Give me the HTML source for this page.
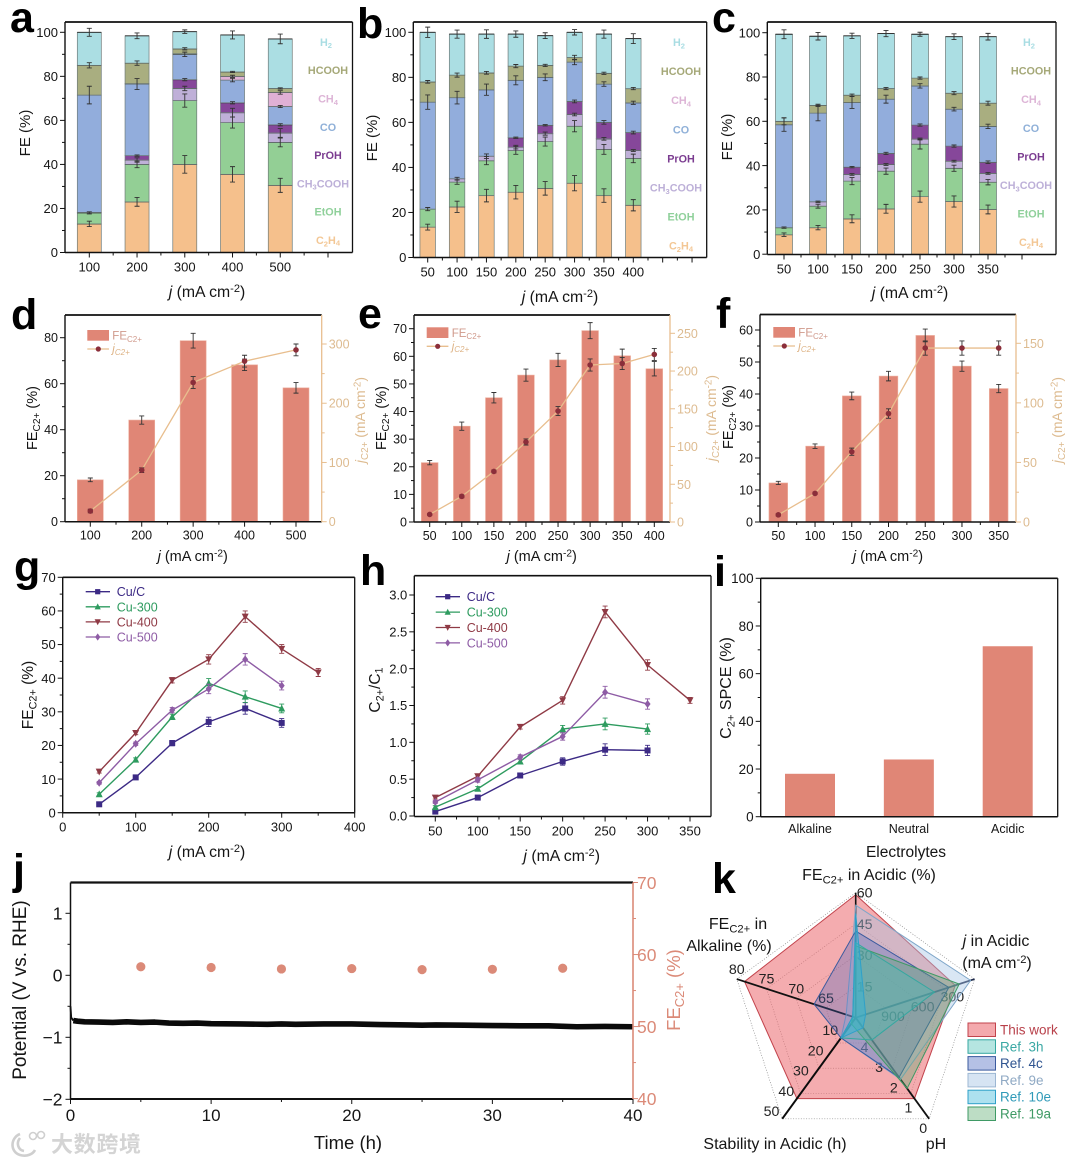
<!DOCTYPE html>
<html lang="en">
<head>
<meta charset="utf-8">
<title>Electrocatalysis performance figure</title>
<style>
html,body{margin:0;padding:0;background:#fff;width:1075px;height:1163px;overflow:hidden}
svg{display:block;font-family:"Liberation Sans","Noto Sans CJK SC",sans-serif;filter:blur(.35px)}
</style>
</head>
<body>
<svg id="figure" xmlns="http://www.w3.org/2000/svg" width="1075" height="1163" viewBox="0 0 1075 1163">
  <rect width="1075" height="1163" fill="#fff"/>
  <g id="panel-a"></g>
  <g id="panel-b"></g>
  <g id="panel-c"></g>
  <g id="panel-d"></g>
  <g id="panel-e"></g>
  <g id="panel-f"></g>
  <g id="panel-g"></g>
  <g id="panel-h"></g>
  <g id="panel-i"></g>
  <g id="panel-j"></g>
  <g id="panel-k"></g>
  <g id="watermark">
    <path d="M20 1134 C10 1138 10 1152 20 1155 C27 1157 33 1154 35 1150 M20 1138 C16 1143 18 1150 24 1151" fill="none" stroke="#cfcfcf" stroke-width="2.6"/>
    <circle cx="33" cy="1136" r="3.5" fill="none" stroke="#cfcfcf" stroke-width="1.6"/>
    <circle cx="41" cy="1135" r="3.5" fill="none" stroke="#cfcfcf" stroke-width="1.6"/>
    <text x="51" y="1152" font-size="22" font-weight="bold" fill="#d4d4d4" textLength="90">大数跨境</text>
  </g>
</svg>
<script>
/* ---------- panel a data (cumulative stack tops, %) ---------- */
const aCats=[100,200,300,400,500];
const aXTicks=[100,200,300,400,500,600];
const aC2H4=[13,23,40,35.5,30.5];
const aEtOH=[18,40,69,59,50];
const aCH3COOH=[18.2,42,74.5,63.5,54.3];
const aPrOH=[18.2,44,78.5,68,58];
const aCO=[71.5,76.5,90,78.3,66.3];
const aCH4=[71.5,76.7,90.3,80,72.7];
const aHCOOH=[85,86,92.5,82,74.5];
const aH2=[100,98.4,100.3,98.8,97];
const aErrC2H4=[1.2,2,4,3.5,3.2];
const aErrEtOH=[.5,1.5,3,2.5,2];
const aErrCH3COOH=[0,1,1,2,2];
const aErrPrOH=[0,.3,.5,.5,.5];
const aErrCO=[4,2.5,1,.8,.5];
const aErrCH4=[0,0,0,.5,.8];
const aErrHCOOH=[1.2,1,.5,.3,.3];
const aErrH2=[1.8,1.3,.8,1.8,2.2];
/* ---------- panel b data ---------- */
const bCats=[50,100,150,200,250,300,350,400];
const bXTicks=[50,100,150,200,250,300,350,400,450,500];
const bC2H4=[13.5,22.5,27.5,29,30.7,33,27.5,23.2];
const bEtOH=[21.5,33.5,43,47.5,51.5,58.3,48,44];
const bCH3COOH=[21.5,35,45,49,55,63.5,52.7,47.5];
const bPrOH=[21.5,35,45,53.2,58.7,69.3,60,55.5];
const bCO=[69,71,74.5,78.7,80,86.8,77,68.7];
const bCH4=[69,71,74.5,78.7,80,86.8,77,68.7];
const bHCOOH=[78,81,82,85,85.3,88.8,81.8,75];
const bH2=[100,99.2,99.2,99.2,98.5,100,99.2,97.2];
const bErrC2H4=[1.3,2.5,2.8,3,3,3.4,3,2.5];
const bErrEtOH=[.7,1,1.8,1.7,2,2.5,2.2,1.9];
const bErrCH3COOH=[0,.6,1,.8,.7,.6,.6,.4];
const bErrPrOH=[0,0,0,.3,.3,.6,.8,.6];
const bErrCO=[3.2,2.8,2.5,2,1.5,1.2,1,.7];
const bErrCH4=[0,0,0,0,0,0,0,0];
const bErrHCOOH=[.6,.9,.6,.7,.5,1,.5,.5];
const bErrH2=[2.3,1.8,1.9,1.4,1.3,1.2,1.8,2.2];
/* ---------- panel c data ---------- */
const cCats=[50,100,150,200,250,300,350];
const cXTicks=[50,100,150,200,250,300,350,400];
const cC2H4=[8.8,12,16,20.5,26,23.8,20.2];
const cEtOH=[12,21.7,33,37.5,49.7,38.8,32.5];
const cCH3COOH=[12,23.7,36,40.5,52,42,36.5];
const cPrOH=[12,23.7,39.3,45.5,58.3,48.8,41.5];
const cCO=[58.5,63.7,68.5,70,76,65.5,57.7];
const cCH4=[58.5,63.7,68.5,70,76,65.5,57.7];
const cHCOOH=[60,67.2,71.8,74.8,79.5,72.7,68.2];
const cH2=[99.3,98.4,98.6,99.6,99.3,98.2,98.2];
const cErrC2H4=[.8,1,1.8,2,2.5,2.5,2];
const cErrEtOH=[.3,.9,1.6,1.4,2.2,1.4,1.2];
const cErrCH3COOH=[0,.3,.4,.4,.4,.4,.4];
const cErrPrOH=[0,0,.3,.5,.5,.5,.6];
const cErrCO=[3,3.5,2.7,1.8,1,.8,1];
const cErrCH4=[0,0,0,0,0,0,0];
const cErrHCOOH=[1.6,.5,.5,.5,.5,.7,.9];
const cErrH2=[2,1.7,1.2,1.4,.9,1.3,1.5];
const stackYTicks=[0,20,40,60,80,100];
/* ---------- panels d, e, f data ---------- */
const dCats=[100,200,300,400,500];
const dFE=[18.2,44.2,78.7,68.2,58.2];
const dFEErr=[.8,1.8,3.2,2.5,2.3];
const dJ=[18,87,235,271,290];
const dJErr=[3,4,10,10,10];
const dYTicks=[0,20,40,60,80];
const dRightTicks=[0,100,200,300];
const eCats=[50,100,150,200,250,300,350,400];
const eFE=[21.5,34.7,45,53.2,58.7,69.3,60.2,55.5];
const eFEErr=[.8,1.5,1.9,2.2,2.4,2.9,2.4,2.6];
const eJ=[10,34,67,106,147,208,210,222];
const eJErr=[1,2,2,4,6,8,8,8];
const eYTicks=[0,10,20,30,40,50,60,70];
const eRightTicks=[0,50,100,150,200,250];
const fCats=[50,100,150,200,250,300,350];
const fFE=[12.2,23.7,39.4,45.6,58.3,48.7,41.7];
const fFEErr=[.5,.7,1.2,1.5,2,1.6,1.3];
const fJ=[6,24,59,91,146,146,146];
const fJErr=[1,1,3,4,6,6,6];
const fYTicks=[0,10,20,30,40,50,60];
const fRightTicks=[0,50,100,150];
/* ---------- panel g data ---------- */
const lineCats=[50,100,150,200,250,300,350];
const gCuC=[2.5,10.5,20.7,27,31,26.7];
const gCu300=[5.5,15.8,28.5,38.5,34.5,31];
const gCu400=[12.2,23.7,39.4,45.6,58.3,48.7,41.7];
const gCu500=[8.9,20.5,30.5,36.8,45.6,37.8];
const gErr=[.4,.5,.8,1.4,1.7,1.3,1.2];
const gXTicks=[0,100,200,300,400];
const gYTicks=[0,10,20,30,40,50,60,70];
/* ---------- panel h data ---------- */
const hCuC=[.06,.25,.55,.74,.9,.89];
const hCu300=[.12,.37,.74,1.18,1.25,1.18];
const hCu400=[.25,.54,1.21,1.57,2.77,2.05,1.57];
const hCu500=[.19,.49,.8,1.08,1.68,1.52];
const hErr=[.02,.03,.03,.05,.08,.07,.04];
const hXTicks=[50,100,150,200,250,300,350];
const hYTicks=[0,.5,1,1.5,2,2.5,3];
/* ---------- panel i data ---------- */
const iCats=['Alkaline','Neutral','Acidic'];
const iSPCE=[18,24,71.5];
const iYTicks=[0,20,40,60,80,100];
/* ---------- panel j data ---------- */
const potentialTimes=[0,.05,.2,.5,1,2,3,4,5,6,7,8,9,10,12,14,15,16,18,20,22,24,25,26,28,30,32,34,36,38,40];
const potentialValues=[-.5,-.68,-.73,-.74,-.75,-.755,-.76,-.75,-.76,-.755,-.77,-.775,-.77,-.78,-.785,-.79,-.785,-.79,-.785,-.785,-.795,-.8,-.805,-.8,-.805,-.81,-.815,-.815,-.83,-.825,-.83];
const feTimes=[5,10,15,20,25,30,35];
const feValues=[58.3,58.2,58,58.05,57.9,57.95,58.1];
const jXTicks=[0,10,20,30,40];
const jYTicks=[-2,-1,0,1];
const jRightTicks=[40,50,60,70];
/* ---------- panel k data: FE acidic, j acidic, pH, stability, FE alkaline ---------- */
const thisWork=[59,195,1,40,78.7];
const ref3h=[36,405,3.9,10,60.5];
const ref4c=[41.6,260,2.05,10,67];
const ref9e=[54,40,1.95,10,61.6];
const ref10e=[50,1100,4.5,10,60.5];
const ref19a=[34.5,155,1.5,3,60.5];
const kFETicks=[60,45,30,15];
const kJTicks=[300,600,900];
const kPHTicks=[0,1,2,3,4];
const kStabilityTicks=[50,40,30,20,10];
const kAlkalineTicks=[80,75,70,65];

/* ---------- helpers ---------- */
const NS='http://www.w3.org/2000/svg';
const XT='<tspan font-style="italic">j</tspan> (mA cm<tspan dy="-.45em" font-size=".7em">-2</tspan><tspan dy=".315em">)</tspan>';
const FEC='FE<tspan dy=".3em" font-size=".7em">C2+</tspan><tspan dy="-.21em"> (%)</tspan>';
const JC='<tspan font-style="italic">j</tspan><tspan dy=".3em" font-size=".7em">C2+</tspan><tspan dy="-.21em"> (mA cm</tspan><tspan dy="-.45em" font-size=".7em">-2</tspan><tspan dy=".315em">)</tspan>';
const BAR='#E08676',TAN='#E8BE8E',TANTXT='#DDBB90',DOT='#8B2E3A';
const stackColors=['#F5C08C','#93CF95','#BFB0D8','#86479A','#92ADDC','#E0B0D5','#A9AE80','#ABDEE3'];
const speciesLabels=['H<tspan dy=".3em" font-size=".7em">2</tspan>','HCOOH','CH<tspan dy=".3em" font-size=".7em">4</tspan>','CO','PrOH','CH<tspan dy=".3em" font-size=".7em">3</tspan><tspan dy="-.21em">COOH</tspan>','EtOH','C<tspan dy=".3em" font-size=".7em">2</tspan><tspan dy="-.21em">H</tspan><tspan dy=".21em" font-size=".7em">4</tspan>'];
const speciesText=['#A9DDE3','#A5A878','#DDB4D6','#8FB0D8','#7B3C90','#BDB0D8','#8FD09A','#F3C795'];
const speciesShift=[-2,0,0,0,0,-5,0,0];

function linear(d0,d1,r0,r1){return v=>r0+(v-d0)*(r1-r0)/(d1-d0);}
function mk(tag,attrs,parent){const el=document.createElementNS(NS,tag);for(const k in attrs)el.setAttribute(k,attrs[k]);parent.appendChild(el);return el;}
function label(parent,name,x,y,html,o){
  o=o||{};
  const el=mk('text',{x:x,y:y,'font-size':o.size||13,fill:o.fill||'#151515','text-anchor':o.anchor||'middle'},parent);
  if(o.rot!=null)el.setAttribute('transform','rotate('+o.rot+' '+x+' '+y+')');
  if(o.weight)el.setAttribute('font-weight',o.weight);
  el.innerHTML=html;
  
  
  return el;
}
function axisLine(parent,x1,y1,x2,y2,color,w){
  const el=mk('line',{x1:x1,y1:y1,x2:x2,y2:y2,stroke:color,'stroke-width':w},parent);
  
  
  return el;
}
function frame(parent,l,r,t,b,rightColor,topW){
  axisLine(parent,l,t,r,t,'#111',topW||1.7);
  axisLine(parent,l,b,r,b,'#111',1.5);
  axisLine(parent,l,t,l,b,'#111',1.4);
  axisLine(parent,r,t,r,b,rightColor||'#111',1.3);
}
function yTick(parent,x,y,len,color){
  const el=mk('line',{x1:x,y1:y,x2:x+len,y2:y,stroke:color,'stroke-width':1},parent);
  
  
}
function xTick(parent,x,y,len,color){
  const el=mk('line',{x1:x,y1:y,x2:x,y2:y+len,stroke:color,'stroke-width':1},parent);
  
  
}
function yAxis(parent,scale,ticks,x,dir,o){
  o=o||{};const color=o.color||'#111',tc=o.text||'#151515',size=o.size||13,fmt=o.fmt||(v=>String(v));
  ticks.forEach((v,i)=>{
    yTick(parent,x,scale(v),dir*(o.major||5),color);
    label(parent,'y-tick-label',x+dir*(o.gap||7),scale(v)+size*.36,fmt(v),{size:size,fill:tc,anchor:dir<0?'end':'start'});
    if(i<ticks.length-1)yTick(parent,x,scale((v+ticks[i+1])/2),dir*3,color);
  });
}
function xAxis(parent,scale,ticks,shown,y,o){
  o=o||{};const size=o.size||13,dy=o.dy||(size+6);
  ticks.forEach((v,i)=>{
    xTick(parent,scale(v),y,o.major||5,o.color||'#111');
    if(shown.indexOf(v)>=0)label(parent,'x-tick-label',scale(v),y+dy,String(v),{size:size});
    if(i<ticks.length-1)xTick(parent,scale((v+ticks[i+1])/2),y,3,o.color||'#111');
  });
}
function errorBar(parent,x,yTop,yBot,color,cap){
  const d='M'+x+' '+yTop+'V'+yBot+'M'+(x-cap)+' '+yTop+'H'+(x+cap)+'M'+(x-cap)+' '+yBot+'H'+(x+cap);
  const el=mk('path',{d:d,stroke:color,'stroke-width':.9,fill:'none'},parent);
  
  
}
function marker(parent,type,x,y,color,s){
  let el;
  if(type==='square')el=mk('rect',{x:x-s,y:y-s,width:2*s,height:2*s,fill:color},parent);
  else if(type==='up')el=mk('path',{d:'M'+x+' '+(y-s-.8)+'L'+(x+s+.5)+' '+(y+s)+'L'+(x-s-.5)+' '+(y+s)+'Z',fill:color},parent);
  else if(type==='down')el=mk('path',{d:'M'+x+' '+(y+s+.8)+'L'+(x+s+.5)+' '+(y-s)+'L'+(x-s-.5)+' '+(y-s)+'Z',fill:color},parent);
  else if(type==='diamond')el=mk('path',{d:'M'+x+' '+(y-s-1)+'L'+(x+s)+' '+y+'L'+x+' '+(y+s+1)+'L'+(x-s)+' '+y+'Z',fill:color},parent);
  else el=mk('circle',{cx:x,cy:y,r:s,fill:color},parent);
  
  
}
function seriesLine(parent,pts,color,w){
  const el=mk('polyline',{points:pts.map(p=>p[0]+','+p[1]).join(' '),fill:'none',stroke:color,'stroke-width':w,'stroke-linejoin':'round'},parent);
  
  
  return el;
}
function drawStack(id,o){
  const g=document.getElementById(id),x=o.x,y=o.y;
  o.cats.forEach((cat,i)=>{
    let prev=0;
    o.tops.forEach((s,k)=>{
      const top=s[i];
      if(top<=prev)return;
      const el=mk('rect',{x:x(cat)-o.w/2,y:y(top),width:o.w,height:y(prev)-y(top),fill:stackColors[k],stroke:'#6d7a78','stroke-width':.7},g);
      
      
      const edge=mk('line',{x1:x(cat)-o.w/2,x2:x(cat)+o.w/2,y1:y(top),y2:y(top),stroke:'#222','stroke-width':.9},g);
      
      
      prev=top;
    });
  });
  o.cats.forEach((cat,i)=>{
    o.tops.forEach((s,k)=>{
      const e=o.errs[k][i];
      if(e>0)errorBar(g,x(cat),y(s[i]+e),y(s[i]-e),'#333',2.5);
    });
  });
  frame(g,o.l,o.r,o.t,o.b);
  yAxis(g,y,stackYTicks,o.l,-1);
  xAxis(g,x,o.xTicks,o.cats,o.b,{size:o.xSize||13});
  speciesLabels.forEach((s,i)=>{
    label(g,'species-label',o.lx+speciesShift[i],o.ly+i*o.ls,s,{size:10.8,fill:speciesText[i],weight:'bold'});
  });
  label(g,'x-axis-title',o.tx,o.ty,XT,{size:15.8});
  label(g,'y-axis-title',o.fx,o.fy,'FE (%)',{size:15,rot:-90});
}
function drawCombo(id,o){
  const g=document.getElementById(id),x=o.x,y=o.y,yr=o.yr;
  o.cats.forEach((cat,i)=>{
    const el=mk('rect',{x:x(cat)-o.w/2,y:y(o.fe[i]),width:o.w,height:y(0)-y(o.fe[i]),fill:BAR,stroke:'#EDB09F','stroke-width':.6},g);
    
    
  });
  o.cats.forEach((cat,i)=>{errorBar(g,x(cat),y(o.fe[i]+o.feErr[i]),y(o.fe[i]-o.feErr[i]),'#333',2.5);});
  seriesLine(g,o.cats.map((c,i)=>[x(c),yr(o.j[i])]),TAN,1.3);
  o.cats.forEach((cat,i)=>{
    errorBar(g,x(cat),yr(o.j[i]+o.jErr[i]),yr(o.j[i]-o.jErr[i]),'#333',2.5);
    marker(g,'circle',x(cat),yr(o.j[i]),DOT,2.8);
  });
  frame(g,o.l,o.r,o.t,o.b,TAN);
  yAxis(g,y,o.yTicks,o.l,-1,{size:12.5});
  yAxis(g,yr,o.rTicks,o.r,1,{color:TAN,text:TANTXT,size:12.5});
  xAxis(g,x,o.cats,o.cats,o.b,{size:12.5,dy:18});
  const lr=mk('rect',{x:o.lgx,y:o.lgy,width:21.7,height:10.7,fill:BAR},g);
  
  
  label(g,'legend-label-fe',o.lgx+25,o.lgy+9.5,'FE<tspan dy=".3em" font-size=".7em">C2+</tspan>',{size:11.5,fill:'#D09A8C',anchor:'start'});
  seriesLine(g,[[o.lgx,o.lgy+19],[o.lgx+21.7,o.lgy+19]],TAN,1.3);
  marker(g,'circle',o.lgx+11,o.lgy+19,DOT,2.6);
  label(g,'legend-label-j',o.lgx+25,o.lgy+22.5,'<tspan font-style="italic">j</tspan><tspan dy=".3em" font-size=".7em" font-style="italic">C2+</tspan>',{size:11.5,fill:'#DDB284',anchor:'start'});
  label(g,'x-axis-title',o.tx,561,XT,{size:14.5});
  label(g,'y-axis-title',o.fx,o.fy,FEC,{size:14.5,rot:-90});
  label(g,'right-axis-title',o.rx,o.ry,JC,{size:14,fill:TANTXT,rot:-90});
}
const lineStyles=[['Cu/C','#3C2A85','square'],['Cu-300','#2E9B5F','up'],['Cu-400','#8F3A45','down'],['Cu-500','#8E5CA5','diamond']];
function drawLines(id,o){
  const g=document.getElementById(id),x=o.x,y=o.y;
  o.series.forEach((vals,k)=>{
    const st=lineStyles[k];
    seriesLine(g,vals.map((v,i)=>[x(lineCats[i]),y(v)]),st[1],1.4);
    vals.forEach((v,i)=>{
      errorBar(g,x(lineCats[i]),y(v+o.err[i]),y(v-o.err[i]),st[1],2.5);
      marker(g,st[2],x(lineCats[i]),y(v),st[1],3);
    });
    seriesLine(g,[[o.lgx,o.lgy+k*o.lgs],[o.lgx+24.3,o.lgy+k*o.lgs]],st[1],1.3);
    marker(g,st[2],o.lgx+12,o.lgy+k*o.lgs,st[1],2.6);
    label(g,'legend-label',o.lgx+31,o.lgy+k*o.lgs+4.5,st[0],{size:12.5,fill:st[1],anchor:'start'});
  });
  frame(g,o.l,o.r,o.t,o.b);
  yAxis(g,y,o.yTicks,o.l,-1,{fmt:o.yFmt});
  xAxis(g,x,o.xTicks,o.xTicks,o.b,{size:13});
  label(g,'x-axis-title',o.tx,o.ty,XT,{size:15.8});
  label(g,'y-axis-title',o.fx,o.fy,o.yTitle,{size:15.5,rot:-90});
}

/* ---------- stacked panels ---------- */
drawStack('panel-a',{l:65,r:352.5,t:22,b:252.5,cats:aCats,xTicks:aXTicks,w:24,
  x:linear(100,600,89.3,328),y:linear(0,100,252.5,32.3),
  tops:[aC2H4,aEtOH,aCH3COOH,aPrOH,aCO,aCH4,aHCOOH,aH2],
  errs:[aErrC2H4,aErrEtOH,aErrCH3COOH,aErrPrOH,aErrCO,aErrCH4,aErrHCOOH,aErrH2],
  lx:328,ly:240-7*28.3+4,ls:28.3,tx:207,ty:297,fx:30,fy:133});
drawStack('panel-b',{l:413.3,r:706.7,t:22,b:257.5,cats:bCats,xTicks:bXTicks,w:15.5,
  x:linear(50,400,427.7,633.3),y:linear(0,100,257.5,32.3),
  tops:[bC2H4,bEtOH,bCH3COOH,bPrOH,bCO,bCH4,bHCOOH,bH2],
  errs:[bErrC2H4,bErrEtOH,bErrCH3COOH,bErrPrOH,bErrCO,bErrCH4,bErrHCOOH,bErrH2],
  lx:681,ly:46,ls:29.1,tx:560,ty:302,fx:377,fy:138});
drawStack('panel-c',{l:767.3,r:1056,t:22,b:254.5,cats:cCats,xTicks:cXTicks,w:17,
  x:linear(50,400,784,1022),y:linear(0,100,254.2,32.7),
  tops:[cC2H4,cEtOH,cCH3COOH,cPrOH,cCO,cCH4,cHCOOH,cH2],
  errs:[cErrC2H4,cErrEtOH,cErrCH3COOH,cErrPrOH,cErrCO,cErrCH4,cErrHCOOH,cErrH2],
  lx:1031,ly:46,ls:28.6,tx:910,ty:298,fx:732,fy:137});

/* ---------- combo panels ---------- */
drawCombo('panel-d',{l:65,r:321.7,t:315,b:521.7,cats:dCats,fe:dFE,feErr:dFEErr,j:dJ,jErr:dJErr,w:26,
  x:linear(100,500,90.3,296),y:linear(0,80,521.7,337.7),yr:linear(0,300,521.7,344),
  yTicks:dYTicks,rTicks:dRightTicks,lgx:87.3,lgy:330,tx:192.7,fx:37,fy:418,rx:365,ry:420});
drawCombo('panel-e',{l:414,r:670,t:315,b:522,cats:eCats,fe:eFE,feErr:eFEErr,j:eJ,jErr:eJErr,w:16.7,
  x:linear(50,400,429.7,654.3),y:linear(0,70,522,328.7),yr:linear(0,250,522,333.3),
  yTicks:eYTicks,rTicks:eRightTicks,lgx:426.7,lgy:327.3,tx:541.7,fx:386,fy:418,rx:716,ry:418});
drawCombo('panel-f',{l:760,r:1016,t:314.5,b:522,cats:fCats,fe:fFE,feErr:fFEErr,j:fJ,jErr:fJErr,w:18.7,
  x:linear(50,350,778.3,998.7),y:linear(0,60,522,330),yr:linear(0,150,522,343.3),
  yTicks:fYTicks,rTicks:fRightTicks,lgx:773.3,lgy:327,tx:888,fx:733,fy:417,rx:1062,ry:420});

/* ---------- line panels ---------- */
drawLines('panel-g',{l:62.7,r:354.7,t:577.3,b:812.7,x:linear(0,400,62.7,354.7),y:linear(0,70,812.7,577.3),
  series:[gCuC,gCu300,gCu400,gCu500],err:gErr,xTicks:gXTicks,yTicks:gYTicks,
  lgx:85.7,lgy:591.7,lgs:15.1,tx:207,ty:857,fx:33,fy:695,yTitle:FEC});
drawLines('panel-h',{l:414.3,r:711,t:575.7,b:816.5,x:linear(50,350,435.3,690),y:linear(0,3,816,595),
  series:[hCuC,hCu300,hCu400,hCu500],err:hErr,xTicks:hXTicks,yTicks:hYTicks,yFmt:v=>v.toFixed(1),
  lgx:435.7,lgy:596.7,lgs:15.4,tx:561.7,ty:861,fx:380,fy:690,
  yTitle:'C<tspan dy=".3em" font-size=".7em">2+</tspan><tspan dy="-.21em">/C</tspan><tspan dy=".21em" font-size=".7em">1</tspan>'});

/* ---------- panel i ---------- */
(function(){
  const g=document.getElementById('panel-i');
  const y=linear(0,100,816.7,578.3);
  const x=i=>810+i*98.85;
  iCats.forEach((c,i)=>{
    const el=mk('rect',{x:x(i)-25,y:y(iSPCE[i]),width:50,height:y(0)-y(iSPCE[i]),fill:BAR},g);
    
    
    label(g,'x-tick-label',x(i),833,c,{size:12.5});
  });
  frame(g,760.7,1057.7,578.3,816.7);
  yAxis(g,y,iYTicks,760.7,-1,{size:13.5});
  label(g,'x-axis-title',906,857,'Electrolytes',{size:15.5});
  label(g,'y-axis-title',731,688,'C<tspan dy=".3em" font-size=".7em">2+</tspan><tspan dy="-.21em"> SPCE (%)</tspan>',{size:16,rot:-90});
})();

/* ---------- panel j ---------- */
(function(){
  const g=document.getElementById('panel-j');
  const x=linear(0,40,70.5,633),y=linear(0,1,975.3,913.3),yr=linear(40,70,1098.6,882.5);
  seriesLine(g,potentialTimes.slice(0,3).map((t,i)=>[x(t),y(potentialValues[i])]),'#0a0a0a',1.8);
  seriesLine(g,potentialTimes.slice(2).map((t,i)=>[x(t),y(potentialValues[i+2])]),'#0a0a0a',5.6);
  feTimes.forEach((t,i)=>{marker(g,'circle',x(t),yr(feValues[i]),'#DB8A78',4.6);});
  axisLine(g,70.5,882.5,633,882.5,'#111',2.2);
  axisLine(g,70.5,1099,633,1099,'#111',2);
  axisLine(g,70.5,882.5,70.5,1099,'#111',1.5);
  axisLine(g,633,882.5,633,1099,'#DB8A78',1.6);
  yAxis(g,y,jYTicks,70.5,-1,{size:17.5,gap:8,fmt:v=>String(v).replace('-','\u2212')});
  yAxis(g,yr,jRightTicks,633,1,{size:17.5,color:'#DB8A78',text:'#DB8A78',gap:4});
  xAxis(g,x,jXTicks,jXTicks,1099,{size:17,dy:22});
  label(g,'x-axis-title',348,1149,'Time (h)',{size:18.5});
  label(g,'y-axis-title',26,990,'Potential (V vs. RHE)',{size:19,rot:-90});
  label(g,'right-axis-title',680,990,'FE<tspan dy=".3em" font-size=".7em">C2+</tspan><tspan dy="-.21em"> (%)</tspan>',{size:18.5,fill:'#DB8A78',rot:-90});
})();

/* ---------- panel k radar ---------- */
(function(){
  const g=document.getElementById('panel-k');
  const cx=855.7,cy=1017.7,R=125;
  const axes=[v=>v/60,v=>(1200-v)/1200,v=>(5-v)/5,v=>v/50,v=>(v-60)/20];
  function pt(a,f){const t=(-90+72*a)*Math.PI/180;return [cx+R*f*Math.cos(t),cy+R*f*Math.sin(t)];}
  [.25,.5,.75,1].forEach(f=>{
    const el=mk('polygon',{points:[0,1,2,3,4].map(a=>pt(a,f).join(',')).join(' '),fill:'none',stroke:'#8a8a8a','stroke-width':.7,'stroke-dasharray':'1 1.6'},g);
    
    
  });
  function poly(vals,fill,stroke){
    const el=mk('polygon',{points:vals.map((v,a)=>pt(a,axes[a](v)).join(',')).join(' '),fill:fill,stroke:stroke,'stroke-width':1},g);
    
    
  }
  poly(thisWork,'rgba(236,112,118,.58)','#C2434C');
  [['#111',1.6],['#1f2a4a',1.8],['#111',1.8],['#0b0b0b',2],['#111',1.8]].forEach((s,a)=>{
    const e=pt(a,1);
    const el=mk('line',{x1:cx,y1:cy,x2:e[0],y2:e[1],stroke:s[0],'stroke-width':s[1]},g);
    
    
  });
  function ticks(a,vals,ox,oy){
    vals.forEach(v=>{const p=pt(a,axes[a](v));label(g,'radar-tick-label',p[0]+ox,p[1]+oy+5,String(v),{size:14.2,fill:'#222'});});
  }
  ticks(0,kFETicks,9,0);
  ticks(1,kJTicks,7.5,8);
  ticks(2,kPHTicks,-6,9);
  ticks(3,kStabilityTicks,-10.7,-7.7);
  ticks(4,kAlkalineTicks,0,-10);
  poly(ref9e,'rgba(165,195,228,.42)','#7EA6C9');
  poly(ref4c,'rgba(70,100,190,.32)','#3A5A9E');
  poly(ref19a,'rgba(90,170,110,.36)','#3F9A65');
  poly(ref3h,'rgba(70,190,180,.36)','#35A7A0');
  poly(ref10e,'rgba(50,180,215,.5)','#2FA0C8');
  const names=[['This work','rgba(236,112,118,.6)','#C2434C','#B8404A'],['Ref. 3h','rgba(70,190,180,.4)','#35A7A0','#3AA8A4'],['Ref. 4c','rgba(70,100,190,.4)','#3A5A9E','#2F5490'],['Ref. 9e','rgba(165,195,228,.45)','#9DB7D3','#8FA9C4'],['Ref. 10e','rgba(50,180,215,.4)','#2FA0C8','#2F9AB8'],['Ref. 19a','rgba(90,170,110,.4)','#3F9A65','#3F9A65']];
  names.forEach((n,i)=>{
    const yy=1023+i*16.8;
    const sw=mk('rect',{x:968,y:yy,width:27.5,height:13.5,fill:n[1],stroke:n[2],'stroke-width':1},g);
    
    
    label(g,'radar-legend-label',1000,yy+11.5,n[0],{size:13.5,fill:n[3],anchor:'start'});
  });
  label(g,'radar-axis-fe-acidic',869,880,'FE<tspan dy=".3em" font-size=".7em">C2+</tspan><tspan dy="-.21em"> in Acidic (%)</tspan>',{size:16});
  label(g,'radar-axis-fe-alkaline',738,929,'FE<tspan dy=".3em" font-size=".7em">C2+</tspan><tspan dy="-.21em"> in</tspan>',{size:16});
  label(g,'radar-axis-fe-alkaline',729,951,'Alkaline (%)',{size:16});
  label(g,'radar-axis-j',996,946,'<tspan font-style="italic">j</tspan> in Acidic',{size:16});
  label(g,'radar-axis-j',997,968,'(mA cm<tspan dy="-.45em" font-size=".7em">-2</tspan><tspan dy=".315em">)</tspan>',{size:16});
  label(g,'radar-axis-stability',775,1149,'Stability in Acidic (h)',{size:16});
  label(g,'radar-axis-ph',936,1149,'pH',{size:16});
})();

/* ---------- panel letters ---------- */
[['a',10,32,'panel-a'],['b',357,38,'panel-b'],['c',712,32,'panel-c'],['d',11,329,'panel-d'],['e',358,328,'panel-e'],['f',716,328,'panel-f'],['g',14,581,'panel-g'],['h',360,585,'panel-h'],['i',714,586,'panel-i'],['j',13,884,'panel-j'],['k',712,893,'panel-k']].forEach(p=>{
  label(document.getElementById(p[3]),'panel-letter',p[1],p[2],p[0],{size:43,fill:'#000',anchor:'start',weight:'bold'});
});
</script>
</body>
</html>
